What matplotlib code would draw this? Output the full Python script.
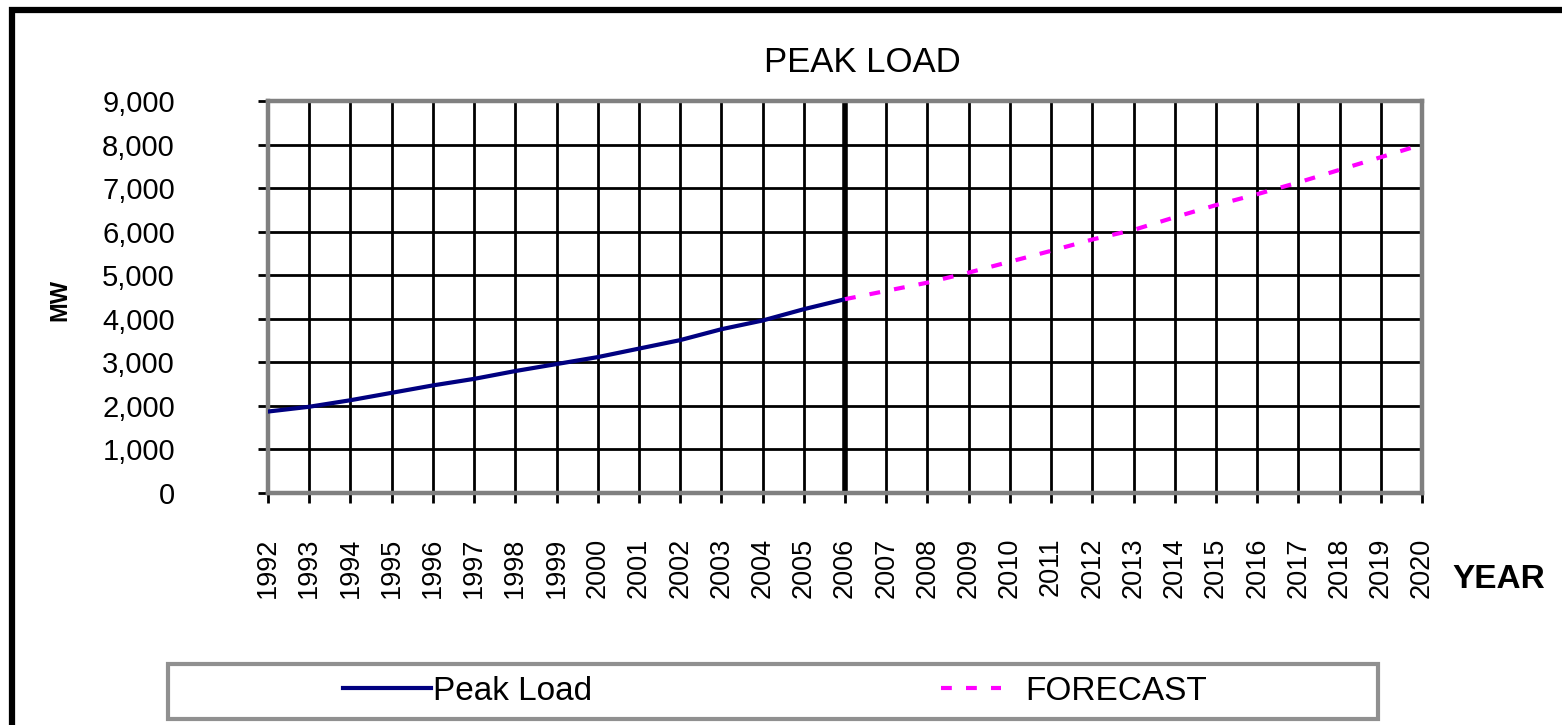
import matplotlib.pyplot as plt
from matplotlib.patches import Rectangle
from matplotlib.ticker import StrMethodFormatter

plt.rcParams["font.family"] = ["Liberation Sans", "DejaVu Sans"]

hist_years = list(range(1992, 2007))
peak_load = [1870, 1980, 2130, 2300, 2470, 2620, 2800, 2960, 3120, 3315,
             3510, 3760, 3960, 4220, 4450]
fc_years = list(range(2006, 2021))
forecast = [4450, 4640, 4830, 5060, 5310, 5560, 5820, 6040, 6330, 6610,
            6860, 7130, 7420, 7710, 8000]
all_years = list(range(1992, 2021))
y_ticks = list(range(0, 10000, 1000))

W, H = 1562, 725
fig = plt.figure(figsize=(W / 100, H / 100), dpi=100)
ax = fig.add_axes([268 / W, 1 - 493 / H, (1422 - 268) / W, (493 - 101) / H])

ax.grid(True, color="black", linewidth=2.0)
ax.set_axisbelow(True)
ax.axvline(hist_years[-1], color="black", linewidth=4, zorder=1.5)

l1, = ax.plot(hist_years, peak_load, color="#000080", linewidth=3.0,
              label="Peak Load", zorder=3)
l2, = ax.plot(fc_years, forecast, color="#ff00ff", linewidth=3.0,
              dashes=(2.6, 3.4), label="FORECAST", zorder=3)

ax.set_xlim(all_years[0], all_years[-1])
ax.set_ylim(0, 9000)
ax.set_xticks(all_years)
ax.set_xticklabels([str(y) for y in all_years], rotation=90)
ax.set_yticks(y_ticks)
ax.yaxis.set_major_formatter(StrMethodFormatter("{x:,.0f}"))
ax.tick_params(axis="y", direction="out", length=7, width=2, pad=60,
               labelsize=21)
ax.tick_params(axis="x", direction="out", length=7, width=2, pad=25,
               labelsize=19.5)
for side in ["left", "right", "top", "bottom"]:
    ax.spines[side].set_color("#808080")
    ax.spines[side].set_linewidth(3.2)

fig.text(862 / W, 1 - 62 / H, "PEAK LOAD", fontsize=25, ha="center",
         va="center")
fig.text(1452 / W, 1 - 580 / H, "YEAR", fontsize=24, fontweight="bold",
         ha="left", va="center")
fig.text(60 / W, 1 - 300 / H, "MW", fontsize=17, fontweight="bold",
         rotation=90, ha="center", va="center")

# outer frame (left and top edges visible)
fig.add_artist(Rectangle((12 / W, -0.1), 1.2, 1.1 - 10 / H, fill=False,
                         edgecolor="black", linewidth=4.5,
                         transform=fig.transFigure))

# legend box
fig.add_artist(Rectangle((168 / W, 1 - 719 / H), (1378 - 168) / W,
                         (719 - 664) / H, fill=False, edgecolor="#909090",
                         linewidth=3, transform=fig.transFigure))
fig.legend(handles=[l1], loc="center left",
           bbox_to_anchor=(326 / W, 1 - 691 / H), frameon=False,
           fontsize=24, borderpad=0, handlelength=2.64, handletextpad=0.06)
fig.legend(handles=[l2], loc="center left",
           bbox_to_anchor=(924 / W, 1 - 691 / H), frameon=False,
           fontsize=24, borderpad=0, handlelength=1.8, handletextpad=0.75)

fig.savefig("out.png", dpi=100)
